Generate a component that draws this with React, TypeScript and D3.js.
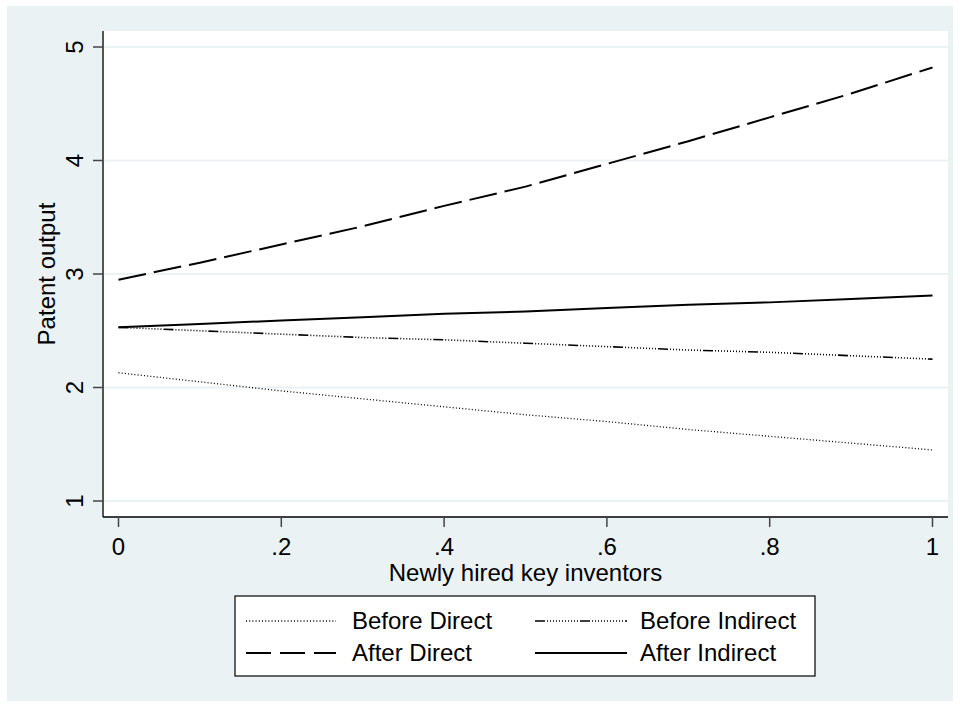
import React from "react";
import * as d3 from "d3";

// values at x = 0, .1, ..., 1
const xValues = [0, 0.1, 0.2, 0.3, 0.4, 0.5, 0.6, 0.7, 0.8, 0.9, 1];
const beforeDirect = [2.13, 2.05, 1.97, 1.9, 1.83, 1.76, 1.7, 1.63, 1.57, 1.51, 1.45];
const beforeIndirect = [2.53, 2.5, 2.47, 2.44, 2.42, 2.39, 2.36, 2.33, 2.31, 2.28, 2.25];
const afterDirect = [2.95, 3.1, 3.26, 3.42, 3.6, 3.77, 3.97, 4.17, 4.38, 4.59, 4.82];
const afterIndirect = [2.53, 2.56, 2.59, 2.62, 2.65, 2.67, 2.7, 2.73, 2.75, 2.78, 2.81];

const xTicks = [0, 0.2, 0.4, 0.6, 0.8, 1];
const xTickLabels = ["0", ".2", ".4", ".6", ".8", "1"];
const yTicks = [1, 2, 3, 4, 5];

const seriesNames = ["Before Direct", "Before Indirect", "After Direct", "After Indirect"];

const FONT = "'Liberation Sans', Arial, Helvetica, sans-serif";
const BG = "#eaf2f3";

const dashDot = "10,2,1,2,1,2,1,2,1,2,1,2,1,2,1,2,1,2,1,2,1,2,1,2";

// line styles (chart, legend)
const styles = [
  { width: 1.3, dash: "1,2.2", legendDash: "1,2.2" },
  { width: 1.6, dash: dashDot, legendDash: dashDot },
  { width: 2, dash: "28,8", legendDash: "25,9" },
  { width: 2, dash: "none", legendDash: "none" },
];

const App = () => {
  const plot = { left: 103, right: 948, top: 31, bottom: 517 };

  const x = d3.scaleLinear().domain([0, 1]).range([118.5, 932.5]);
  const y = d3.scaleLinear().domain([1, 5]).range([501, 47]);

  const data = [beforeDirect, beforeIndirect, afterDirect, afterIndirect];
  const line = d3
    .line<number>()
    .x((_, i) => x(xValues[i]))
    .y((d) => y(d));

  const legend = { x: 235, y: 596, w: 580, h: 80 };
  const legendCols = [
    { sx1: 246, sx2: 336, tx: 352 },
    { sx1: 535, sx2: 627, tx: 640 },
  ];
  const legendRows = [621, 653];

  return (
    <svg
      width={960}
      height={707}
      style={{ position: "absolute", left: 0, top: 0, background: "#fff" }}
      fontFamily={FONT}
    >
      <rect x={7} y={6} width={946} height={695} fill={BG} />
      <rect
        x={plot.left}
        y={plot.top}
        width={plot.right - plot.left}
        height={plot.bottom - plot.top}
        fill="#fff"
      />

      {/* gridlines */}
      {yTicks.map((t) => (
        <line
          key={"g" + t}
          x1={plot.left}
          x2={plot.right}
          y1={y(t)}
          y2={y(t)}
          stroke={BG}
          strokeWidth={2}
        />
      ))}

      {/* series */}
      {data.map((d, i) => (
        <path
          key={seriesNames[i]}
          d={line(d) || ""}
          fill="none"
          stroke="#000"
          strokeWidth={styles[i].width}
          strokeDasharray={styles[i].dash}
        />
      ))}

      {/* y axis */}
      <line x1={plot.left} x2={plot.left} y1={plot.top} y2={plot.bottom} stroke="#555" strokeWidth={2} />
      {yTicks.map((t) => (
        <g key={"y" + t}>
          <line x1={plot.left - 10} x2={plot.left} y1={y(t)} y2={y(t)} stroke="#444" strokeWidth={1.5} />
          <text
            transform={`translate(83,${y(t)}) rotate(-90)`}
            textAnchor="middle"
            fontSize={24}
            fill="#000"
          >
            {t}
          </text>
        </g>
      ))}
      <text
        transform={`translate(55,${(plot.top + plot.bottom) / 2}) rotate(-90)`}
        textAnchor="middle"
        fontSize={24}
        fill="#000"
      >
        Patent output
      </text>

      {/* x axis */}
      <line x1={plot.left} x2={plot.right} y1={plot.bottom} y2={plot.bottom} stroke="#000" strokeWidth={1.5} />
      {xTicks.map((t, i) => (
        <g key={"x" + t}>
          <line x1={x(t)} x2={x(t)} y1={plot.bottom} y2={plot.bottom + 10} stroke="#444" strokeWidth={1.5} />
          <text x={x(t)} y={555} textAnchor="middle" fontSize={24} fill="#000">
            {xTickLabels[i]}
          </text>
        </g>
      ))}
      <text x={(plot.left + plot.right) / 2} y={581} textAnchor="middle" fontSize={24} fill="#000">
        Newly hired key inventors
      </text>

      {/* legend */}
      <rect x={legend.x} y={legend.y} width={legend.w} height={legend.h} fill="#fff" stroke="#000" strokeWidth={1.2} />
      {seriesNames.map((name, i) => {
        const col = legendCols[i % 2];
        const row = legendRows[Math.floor(i / 2)];
        return (
          <g key={"l" + name}>
            <line
              x1={col.sx1}
              x2={col.sx2}
              y1={row}
              y2={row}
              stroke="#000"
              strokeWidth={styles[i].width}
              strokeDasharray={styles[i].legendDash}
            />
            <text x={col.tx} y={row + 8} fontSize={24} fill="#000">
              {name}
            </text>
          </g>
        );
      })}
    </svg>
  );
};

export default App;
